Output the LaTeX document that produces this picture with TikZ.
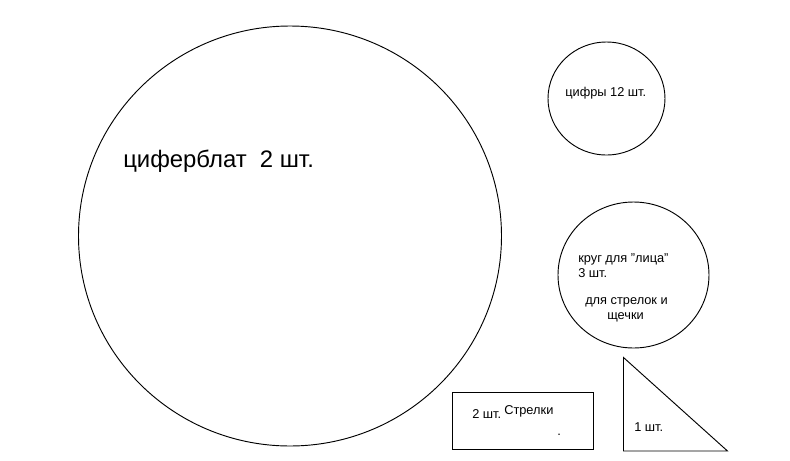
\documentclass[tikz,border=0pt]{standalone}
\usepackage{fontspec}
\setmainfont{Liberation Sans}
\begin{document}
\begin{tikzpicture}[x=0.75pt,y=-0.75pt,
  outline/.style={draw=black,line width=0.7pt},
  bigtxt/.style={inner sep=0pt,anchor=base west,font=\fontsize{17.9}{21}\selectfont},
  smalltxt/.style={inner sep=0pt,anchor=base west,font=\fontsize{9.6}{11}\selectfont}]
\useasboundingbox[fill=white] (0,0) rectangle (790,461);
% shapes
\draw[outline] (290,236) ellipse [x radius=211.5, y radius=210];
\draw[outline] (606.5,98.5) ellipse [x radius=58.5, y radius=56.5];
\draw[outline] (633.5,275) ellipse [x radius=75.5, y radius=73];
\draw[outline] (452,392) rectangle (593,449);
\draw[outline] (623.5,357.5) -- (623.5,451) -- (727.5,451) -- cycle;
% texts
\node[bigtxt] (t1) at (123,167) {циферблат\ \ 2 шт.};
\node[smalltxt] (t2) at (565,96) {цифры 12 шт.};
\node[smalltxt] (t3) at (578,262) {круг для "лица"};
\node[smalltxt] (t4) at (578,277) {3 шт.};
\node[smalltxt] (t5) at (585,304) {для стрелок и};
\node[smalltxt] (t6) at (607,319) {щечки};
\node[smalltxt] (t7) at (472,418) {2 шт.};
\node[smalltxt] (t8) at (504,414) {Стрелки};
\node[smalltxt] (t9) at (557,435) {.};
\node[smalltxt] (t10) at (634,431) {1 шт.};
\end{tikzpicture}
\end{document}
